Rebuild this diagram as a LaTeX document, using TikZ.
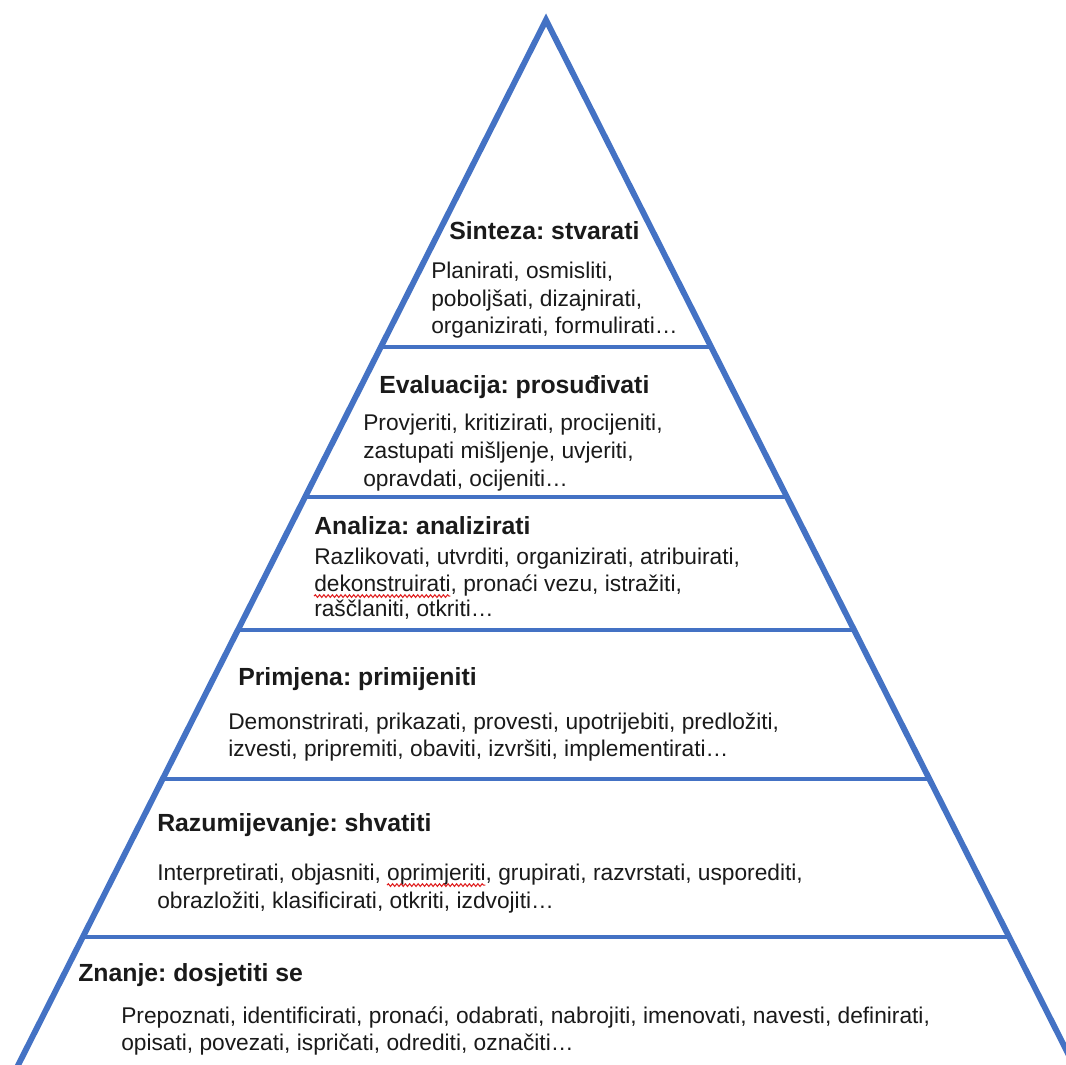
\documentclass[tikz,border=0pt]{standalone}
\usepackage{fontspec}
\setmainfont{Liberation Sans}
\usetikzlibrary{decorations.pathmorphing}
\definecolor{pyrblue}{HTML}{4472C4}
\definecolor{txt}{HTML}{1A1A1A}
\definecolor{spellred}{HTML}{E02020}
\newcommand\bodyfnt{\fontsize{17.05}{20}\selectfont}
\newcommand\headfnt{\fontsize{18.6}{22}\selectfont\bfseries}
\newlength\dekoW
\newlength\oprA
\newlength\oprW
\frenchspacing
\begin{document}
\settowidth{\dekoW}{\bodyfnt dekonstruirati}%
\settowidth{\oprA}{\bodyfnt Interpretirati, objasniti, }%
\settowidth{\oprW}{\bodyfnt oprimjeriti}%
\begin{tikzpicture}[x=0.75pt,y=-0.75pt,
  side/.style={draw=pyrblue,line width=4.4pt,line join=miter},
  tier/.style={draw=pyrblue,line width=3.7pt},
  head/.style={anchor=base west,inner sep=0pt,font=\headfnt,text=txt},
  body/.style={anchor=base west,inner sep=0pt,font=\bodyfnt,text=txt},
  spell/.style={draw=spellred,line width=0.8pt,decorate,
    decoration={snake,amplitude=1pt,segment length=3.2pt}}]
\useasboundingbox (0,0) rectangle (1066,1064);
\fill[white] (0,0) rectangle (1066,1064);
\begin{scope}
\clip (0,0) rectangle (1066,1064);
\coordinate (apex) at (546,20);
\coordinate (bl) at (10.6,1080);
\coordinate (br) at (1081.4,1080);
\coordinate (t1l) at (380.9,347); \coordinate (t1r) at (711.1,347);
\coordinate (t2l) at (305.1,497); \coordinate (t2r) at (786.9,497);
\coordinate (t3l) at (237.9,630); \coordinate (t3r) at (854.1,630);
\coordinate (t4l) at (162.7,779); \coordinate (t4r) at (929.3,779);
\coordinate (t5l) at (82.9,937);  \coordinate (t5r) at (1009.1,937);
\draw[side] (bl) -- (apex) -- (br);
\draw[tier] (t1l) -- (t1r);
\draw[tier] (t2l) -- (t2r);
\draw[tier] (t3l) -- (t3r);
\draw[tier] (t4l) -- (t4r);
\draw[tier] (t5l) -- (t5r);
\end{scope}
% Sinteza
\node[head] (si0) at (449,239) {Sinteza: stvarati};
\node[body] (si1) at (431,278) {Planirati, osmisliti,};
\node[body] (si2) at (431,306) {poboljšati, dizajnirati,};
\node[body] (si3) at (431,333) {organizirati, formulirati…};
% Evaluacija
\node[head] (ev0) at (379,393) {Evaluacija: prosuđivati};
\node[body] (ev1) at (363,430) {Provjeriti, kritizirati, procijeniti,};
\node[body] (ev2) at (363,458) {zastupati mišljenje, uvjeriti,};
\node[body] (ev3) at (363,486) {opravdati, ocijeniti…};
% Analiza
\node[head] (an0) at (314,534) {Analiza: analizirati};
\node[body] (an1) at (314,564) {Razlikovati, utvrditi, organizirati, atribuirati,};
\node[body] (an2) at (314,591) {dekonstruirati, pronaći vezu, istražiti,};
\node[body] (an3) at (314,616) {raščlaniti, otkriti…};
% Primjena
\node[head] (pr0) at (238,685) {Primjena: primijeniti};
\node[body] (pr1) at (228,729) {Demonstrirati, prikazati, provesti, upotrijebiti, predložiti,};
\node[body] (pr2) at (228,756) {izvesti, pripremiti, obaviti, izvršiti, implementirati…};
% Razumijevanje
\node[head] (ra0) at (157,831) {Razumijevanje: shvatiti};
\node[body] (ra1) at (157,880) {Interpretirati, objasniti, oprimjeriti, grupirati, razvrstati, usporediti,};
\node[body] (ra2) at (157,908) {obrazložiti, klasificirati, otkriti, izdvojiti…};
% Znanje
\node[head] (zn0) at (78,981) {Znanje: dosjetiti se};
\node[body] (zn1) at (121,1023) {Prepoznati, identificirati, pronaći, odabrati, nabrojiti, imenovati, navesti, definirati,};
\node[body] (zn2) at (121,1050) {opisati, povezati, ispričati, odrediti, označiti…};
% spell-check squiggles
\draw[spell] ([yshift=-3.8pt]an2.base west) -- ([xshift=\dekoW,yshift=-3.8pt]an2.base west);
\draw[spell] ([xshift=\oprA,yshift=-3.8pt]ra1.base west) -- ([xshift=\oprA+\oprW,yshift=-3.8pt]ra1.base west);
\end{tikzpicture}
\end{document}
